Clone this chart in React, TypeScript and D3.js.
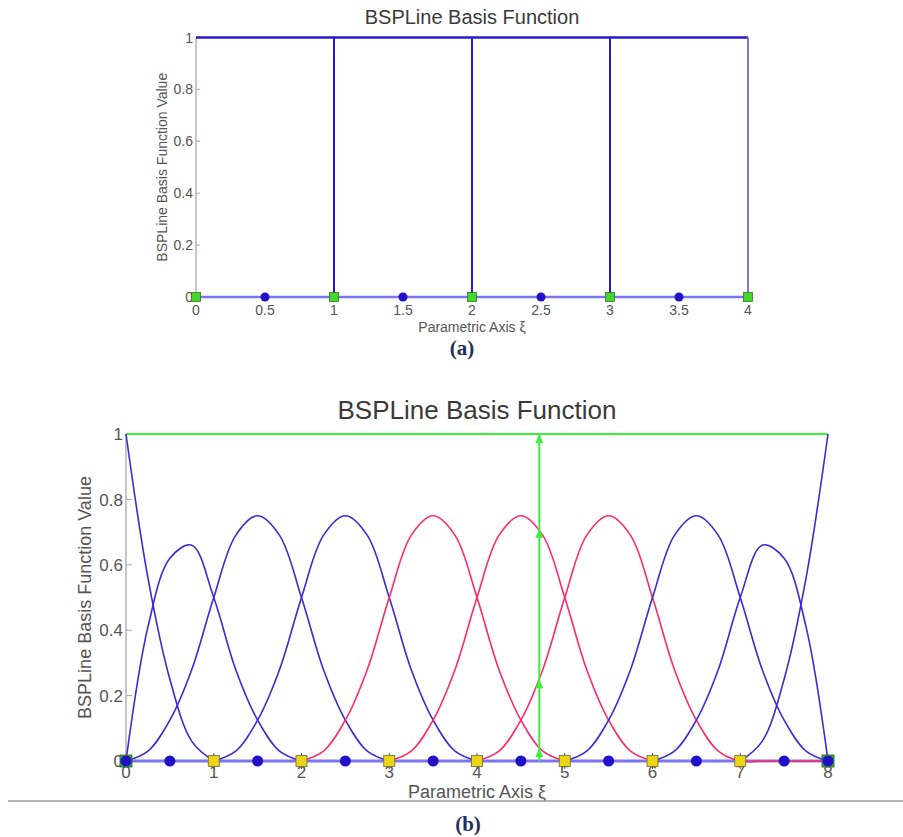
import * as d3 from 'd3'

// ---- panel (a): degree 0 basis ----
const knotsA = [0, 1, 2, 3, 4]
const stepHeightsA = [1, 1, 1, 1]
const midPointsA = [0.5, 1.5, 2.5, 3.5]
const xTicksA = [0, 0.5, 1, 1.5, 2, 2.5, 3, 3.5, 4]
const xTickLabelsA = ['0', '0.5', '1', '1.5', '2', '2.5', '3', '3.5', '4']

// ---- panel (b): quadratic basis, values read at 0.25 steps ----
const yTicks = [0, 0.2, 0.4, 0.6, 0.8, 1]
const yTickLabels = ['0', '0.2', '0.4', '0.6', '0.8', '1']
const knotsB = [1, 2, 3, 4, 5, 6, 7]
const endKnotsB = [0, 8]
const midPointsB = [0.5, 1.5, 2.5, 3.5, 4.5, 5.5, 6.5, 7.5]
const xTicksB = [0, 1, 2, 3, 4, 5, 6, 7, 8]
const sampleStepB = 0.25
const curveStartB = [0, 0, 0, 1, 2, 3, 4, 5, 6, 7]
const curveValuesB = [
  [1, 0.56, 0.25, 0.06, 0],
  [0, 0.41, 0.62, 0.66, 0.5, 0.28, 0.125, 0.03, 0],
  [0, 0.03, 0.125, 0.28, 0.5, 0.69, 0.75, 0.69, 0.5, 0.28, 0.125, 0.03, 0],
  [0, 0.03, 0.125, 0.28, 0.5, 0.69, 0.75, 0.69, 0.5, 0.28, 0.125, 0.03, 0],
  [0, 0.03, 0.125, 0.28, 0.5, 0.69, 0.75, 0.69, 0.5, 0.28, 0.125, 0.03, 0],
  [0, 0.03, 0.125, 0.28, 0.5, 0.69, 0.75, 0.69, 0.5, 0.28, 0.125, 0.03, 0],
  [0, 0.03, 0.125, 0.28, 0.5, 0.69, 0.75, 0.69, 0.5, 0.28, 0.125, 0.03, 0, 0, 0, 0, 0],
  [0, 0.03, 0.125, 0.28, 0.5, 0.69, 0.75, 0.69, 0.5, 0.28, 0.125, 0.03, 0],
  [0, 0.03, 0.125, 0.28, 0.5, 0.66, 0.62, 0.41, 0],
  [0, 0.06, 0.25, 0.56, 1],
]
const curveIsRed = [false, false, false, false, true, true, true, false, false, false]
const partitionX = 4.71
const partitionMarks = [0.04, 0.25, 0.71, 1]

const FONT = 'Liberation Sans, Arial, sans-serif'
const BLUE = '#3a2bd4'
const DARK_BLUE = '#2a18d0'
const LIGHT_BLUE = '#7c74f0'
const RED = '#ff2a68'
const GREEN = '#3cf03c'

function Frame({ x, y, xTicks, xLabels, title, titleY, titleSize, tickSize, labelSize, tickLabelY, xLabelY, yLabelX, tickLen }) {
  const x0 = x(0)
  const cx = (x.range()[0] + x.range()[1]) / 2
  const cy = (y.range()[0] + y.range()[1]) / 2
  return (
    <g fontFamily={FONT}>
      <text x={cx} y={titleY} textAnchor="middle" fontSize={titleSize} fill="#3a3a3a">{title}</text>
      <line x1={x0} x2={x0} y1={y(0)} y2={y(1)} stroke="#a8a8a8" strokeWidth={1.3} />
      {yTicks.map((t, i) => (
        <g key={'y' + i}>
          <line x1={x0} x2={x0 + tickLen} y1={y(t)} y2={y(t)} stroke="#a8a8a8" />
          <text x={x0 - 3} y={y(t)} dy="0.36em" textAnchor="end" fontSize={tickSize} fill="#555">{yTickLabels[i]}</text>
        </g>
      ))}
      {xTicks.map((t, i) => (
        <text key={'x' + i} x={x(t)} y={tickLabelY} textAnchor="middle" fontSize={tickSize} fill="#555">{xLabels[i]}</text>
      ))}
      <text x={cx} y={xLabelY} textAnchor="middle" fontSize={labelSize} fill="#555">Parametric Axis ξ</text>
      <text transform={`translate(${yLabelX},${cy}) rotate(-90)`} textAnchor="middle" fontSize={labelSize} fill="#555">BSPLine Basis Function Value</text>
    </g>
  )
}

function PanelA() {
  const x = d3.scaleLinear().domain([0, 4]).range([196, 748])
  const y = d3.scaleLinear().domain([0, 1]).range([297, 37.5])
  const last = knotsA[knotsA.length - 1]
  return (
    <g>
      <Frame x={x} y={y} xTicks={xTicksA} xLabels={xTickLabelsA} title="BSPLine Basis Function"
        titleY={24} titleSize={20} tickSize={14} labelSize={14} tickLabelY={315} xLabelY={332} yLabelX={167} tickLen={4} />
      <line x1={x(0)} x2={x(last)} y1={y(0)} y2={y(0)} stroke={LIGHT_BLUE} strokeWidth={2.5} />
      {stepHeightsA.map((h, i) => (
        <line key={'t' + i} x1={x(knotsA[i])} x2={x(knotsA[i + 1])} y1={y(h)} y2={y(h)} stroke={DARK_BLUE} strokeWidth={2.6} />
      ))}
      {knotsA.slice(1, -1).map((k, i) => (
        <line key={'v' + i} x1={x(k)} x2={x(k)} y1={y(0)} y2={y(stepHeightsA[i])} stroke={DARK_BLUE} strokeWidth={2} />
      ))}
      <line x1={x(last)} x2={x(last)} y1={y(0)} y2={y(stepHeightsA[stepHeightsA.length - 1])} stroke={LIGHT_BLUE} strokeWidth={2} />
      {midPointsA.map((m, i) => (
        <circle key={'d' + i} cx={x(m)} cy={y(0)} r={4.5} fill="#2010c8" />
      ))}
      {knotsA.map((k, i) => (
        <rect key={'s' + i} x={x(k) - 4.5} y={y(0) - 4.5} width={9} height={9} fill="#44d62a" stroke="#2f7a22" strokeWidth={0.8} />
      ))}
    </g>
  )
}

function PanelB() {
  const x = d3.scaleLinear().domain([0, 8]).range([126, 828])
  const y = d3.scaleLinear().domain([0, 1]).range([761, 434])
  const line = d3.line<number>()
    .x((_, i) => x(i * sampleStepB))
    .y(v => y(v))
    .curve(d3.curveCatmullRom.alpha(0.5))
  const px = x(partitionX)
  return (
    <g>
      <Frame x={x} y={y} xTicks={xTicksB} xLabels={xTicksB.map(String)} title="BSPLine Basis Function"
        titleY={419} titleSize={26} tickSize={17} labelSize={18} tickLabelY={778} xLabelY={798} yLabelX={91} tickLen={6} />
      <line x1={x(0)} x2={x(8)} y1={y(0)} y2={y(0)} stroke={LIGHT_BLUE} strokeWidth={3} />
      <line x1={x(0)} x2={x(8)} y1={y(1)} y2={y(1)} stroke={GREEN} strokeWidth={2} />
      {curveValuesB.map((vals, i) => (
        <path key={'c' + i} d={line(vals) ?? ''} transform={`translate(${x(curveStartB[i]) - x(0)},0)`}
          fill="none" stroke={curveIsRed[i] ? RED : BLUE} strokeWidth={1.6} />
      ))}
      <line x1={px} x2={px} y1={y(0)} y2={y(1)} stroke={GREEN} strokeWidth={2} />
      {partitionMarks.map((v, i) => (
        <path key={'a' + i} d={`M${px},${y(v)}L${px - 4},${y(v) + 9}L${px + 4},${y(v) + 9}Z`} fill={GREEN} />
      ))}
      {knotsB.map((k, i) => (
        <line key={'k' + i} x1={x(k)} x2={x(k)} y1={y(0) - 8} y2={y(0) + 8} stroke="#555" strokeWidth={1} />
      ))}
      {knotsB.map((k, i) => (
        <rect key={'s' + i} x={x(k) - 5.5} y={y(0) - 5.5} width={11} height={11} fill="#ecd417" stroke="#6a6a30" strokeWidth={0.8} />
      ))}
      {endKnotsB.map((k, i) => (
        <rect key={'e' + i} x={x(k) - 6} y={y(0) - 6} width={12} height={12} fill="#3aa83a" stroke="#1f5f1f" strokeWidth={0.8} />
      ))}
      {midPointsB.concat(endKnotsB).map((m, i) => (
        <circle key={'d' + i} cx={x(m)} cy={y(0)} r={5.5} fill="#2010c8" />
      ))}
    </g>
  )
}

export default function App() {
  return (
    <svg width={903} height={837} style={{ position: 'absolute', left: 0, top: 0, background: '#fff' }}>
      <rect width={903} height={837} fill="#fff" />
      <PanelA />
      <text x={462} y={355} textAnchor="middle" fontFamily="Liberation Serif, Times New Roman, serif" fontWeight="bold" fontSize={21} fill="#1f3060">(a)</text>
      <PanelB />
      <line x1={8} x2={903} y1={801} y2={801} stroke="#9a9a9a" strokeWidth={1.5} />
      <text x={468} y={831} textAnchor="middle" fontFamily="Liberation Serif, Times New Roman, serif" fontWeight="bold" fontSize={21} fill="#1f3060">(b)</text>
    </svg>
  )
}
